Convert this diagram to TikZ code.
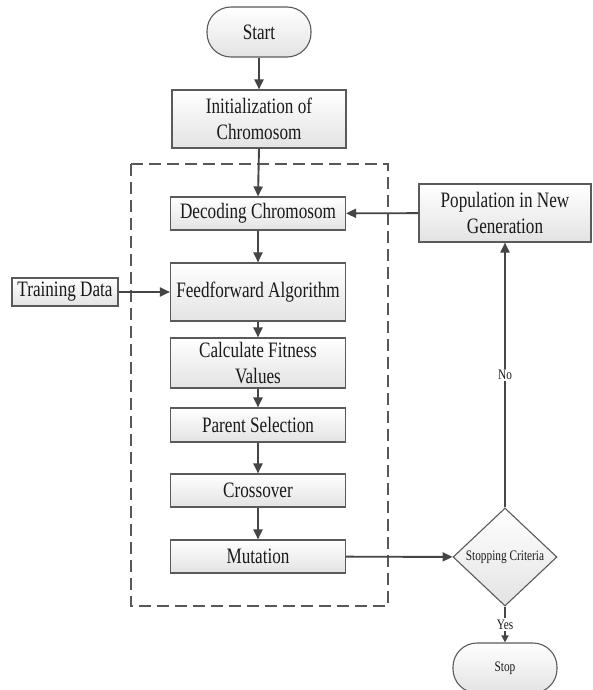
\documentclass[tikz,border=0pt]{standalone}
\usepackage{fontspec}
\setmainfont[FakeStretch=0.78]{Liberation Serif}
\usetikzlibrary{shapes.geometric,arrows.meta}
\definecolor{linec}{HTML}{454545}
\definecolor{borderc}{HTML}{5A5A5A}
\definecolor{textc}{HTML}{1A1A1A}
\begin{document}
\begin{tikzpicture}[x=1pt,y=-1pt,
  box/.style={draw=borderc, line width=1.1pt, top color=white, bottom color=black!11,
    inner sep=0pt, align=center, text=textc, font=\fontsize{22}{26}\selectfont},
  pill/.style={box, rounded corners=24pt, minimum width=104pt, minimum height=50pt},
  smallfont/.style={font=\fontsize{14.5}{16}\selectfont},
  arr/.style={draw=linec, line width=1.9pt, -{Triangle[length=10pt,width=9pt]}},
  thinarr/.style={draw=linec, line width=1.5pt, -{Triangle[length=7pt,width=7pt]}},
  lbl/.style={fill=white, inner sep=1.5pt, text=textc, font=\fontsize{14.5}{16}\selectfont},
]
\useasboundingbox (0,0) rectangle (593,690);
\fill[white] (0,0) rectangle (593,690);

% dashed frame
\draw[draw=linec!90, line width=1.4pt, dash pattern=on 12pt off 6pt] (131,164) rectangle (388,606);

\node[pill] (start) at (259,32) {Start};
\node[box, minimum width=174pt, minimum height=58pt] (init) at (259,119) {Initialization of\\Chromosom};
\node[box, minimum width=175pt, minimum height=33pt] (decode) at (258,213.5) {Decoding Chromosom};
\node[box, minimum width=175pt, minimum height=58pt] (ff) at (258,292) {Feedforward Algorithm};
\node[box, minimum width=175pt, minimum height=50pt] (fit) at (258,363) {Calculate Fitness\\Values};
\node[box, minimum width=175pt, minimum height=34pt] (parent) at (258,425) {Parent Selection};
\node[box, minimum width=175pt, minimum height=33pt] (cross) at (258,490.5) {Crossover};
\node[box, minimum width=175pt, minimum height=33pt] (mut) at (258,556.5) {Mutation};
\node[box, minimum width=106pt, minimum height=28pt] (train) at (65,292) {Training Data};
\node[box, minimum width=172pt, minimum height=58pt] (pop) at (505,213) {Population in New\\Generation};
\node[box, smallfont, shape=diamond, aspect=1.06, minimum width=104pt, minimum height=98pt] (stopc) at (505,557) {Stopping Criteria};
\node[pill, smallfont] (stop) at (505,668) {Stop};

\draw[arr] (start) -- (init);
\draw[arr] (init.south) -- (decode.north);
\draw[arr] (decode) -- (ff);
\draw[arr] (ff) -- (fit);
\draw[arr] (fit) -- (parent);
\draw[arr] (parent) -- (cross);
\draw[arr] (cross) -- (mut);
\draw[arr] (train) -- (ff);
\draw[arr] (pop) -- (decode);
\draw[arr] (mut) -- (stopc);
\draw[arr] (stopc.north) -- node[lbl] {No} (pop.south);
\draw[thinarr] (stopc.south) -- node[lbl] {Yes} (stop.north);
\end{tikzpicture}
\end{document}
